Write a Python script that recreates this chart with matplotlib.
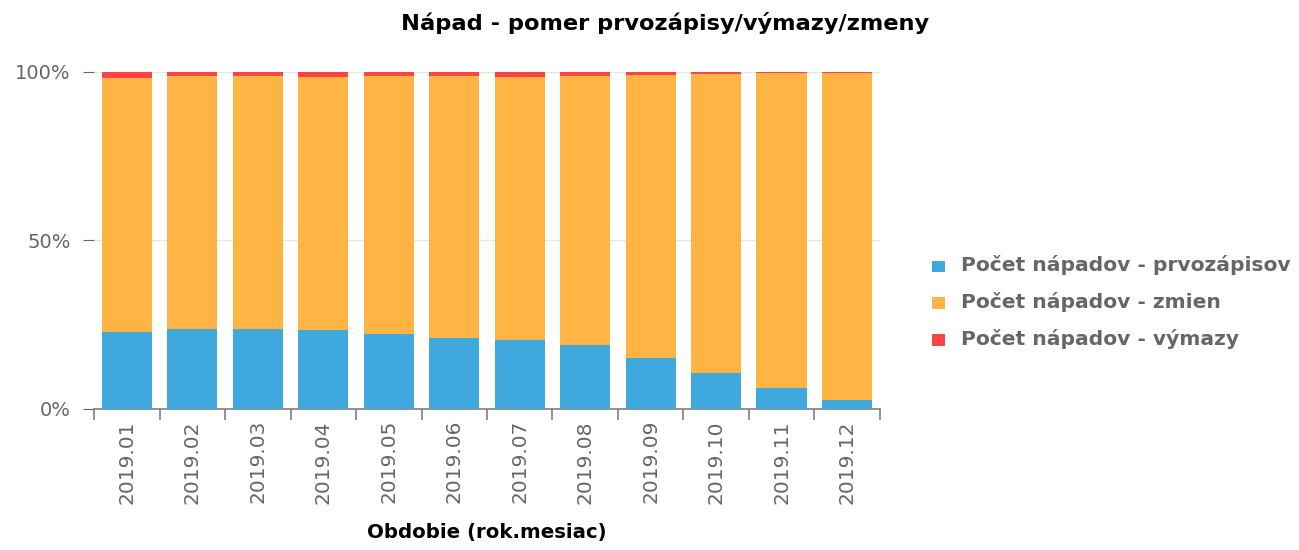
import matplotlib.pyplot as plt
import numpy as np

plt.rcParams['font.family'] = ['DejaVu Sans']

# Hodnoty odčítané z grafu (percentá)
obdobia = ['2019.01', '2019.02', '2019.03', '2019.04', '2019.05', '2019.06',
           '2019.07', '2019.08', '2019.09', '2019.10', '2019.11', '2019.12']
prvozapisy = [22.8, 23.7, 23.7, 23.5, 22.3, 21.2, 20.5, 19.0, 15.0, 10.7, 6.3, 2.6]
vymazy = [1.8, 1.2, 1.2, 1.5, 1.2, 1.2, 1.6, 1.2, 0.9, 0.6, 0.3, 0.15]
zmeny = [100 - p - v for p, v in zip(prvozapisy, vymazy)]

farby = ['#3fa8dc', '#ffb443', '#ff4343']
siva = '#666666'

fig = plt.figure(figsize=(12.99, 5.5), dpi=100)
ax = fig.add_axes([0.0724, 0.2564, 0.605, 0.6127])

x = np.arange(len(obdobia))
sirka = 0.77
ax.bar(x, prvozapisy, sirka, color=farby[0], label='Počet nápadov - prvozápisov', zorder=3)
ax.bar(x, zmeny, sirka, bottom=prvozapisy, color=farby[1], label='Počet nápadov - zmien', zorder=3)
spodok = [p + z for p, z in zip(prvozapisy, zmeny)]
ax.bar(x, vymazy, sirka, bottom=spodok, color=farby[2], label='Počet nápadov - výmazy', zorder=3)

ax.set_xlim(-0.5, len(obdobia) - 0.5)
ax.set_ylim(0, 100)
ax.set_yticks([0, 50, 100])
ax.set_yticklabels(['0%', '50%', '100%'])
ax.yaxis.grid(True, color='#e6e6e6', linewidth=1, zorder=0)
ax.tick_params(axis='y', length=8, color=siva, labelcolor=siva, labelsize=14, pad=9)

ax.set_xticks(x)
ax.set_xticklabels(obdobia, rotation=90, color=siva, fontsize=14.5)
ax.set_xticks(np.arange(len(obdobia) + 1) - 0.5, minor=True)
ax.tick_params(axis='x', which='major', length=0, pad=8)
ax.tick_params(axis='x', which='minor', length=8, color='#808080', width=1.2)

for s in ['top', 'right', 'left']:
    ax.spines[s].set_visible(False)
ax.spines['bottom'].set_color('#808080')
ax.spines['bottom'].set_linewidth(1.2)

ax.set_xlabel('Obdobie (rok.mesiac)', fontsize=14.2, fontweight='bold', color='black', labelpad=14)
fig.suptitle('Nápad - pomer prvozápisy/výmazy/zmeny', x=0.512, y=0.978,
             fontsize=16.2, fontweight='bold')

leg = fig.legend(loc='center left', bbox_to_anchor=(0.708, 0.451), frameon=False,
                 handlelength=0.95, handleheight=0.95, labelspacing=1.2, handletextpad=1.1)
for t in leg.get_texts():
    t.set_color(siva)
    t.set_fontsize(14.6)
    t.set_fontweight('bold')

fig.savefig('out.png', dpi=100)
